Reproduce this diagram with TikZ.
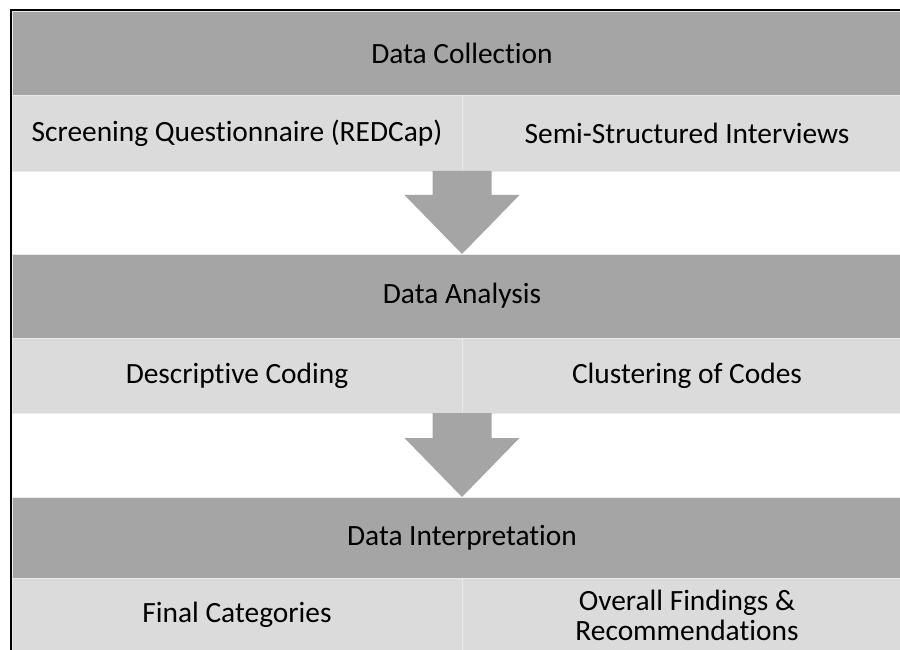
\documentclass[tikz,border=0pt]{standalone}
\usepackage{fontspec}
\setmainfont{Carlito}[Ligatures={NoCommon}]
\usetikzlibrary{calc}
\definecolor{darkband}{HTML}{A5A5A5}
\definecolor{lightband}{HTML}{DBDBDB}
\definecolor{sepline}{HTML}{E9E9E9}
\begin{document}
\begin{tikzpicture}[x=1pt,y=-1pt,
  txt/.style={font=\fontsize{29.4}{30}\selectfont, text=black, inner sep=0pt, outer sep=0pt},
  darkbox/.style={txt, rectangle, fill=darkband, draw=sepline, line width=0.8pt, minimum width=900pt, anchor=north west},
  lightbox/.style={txt, rectangle, fill=lightband, draw=sepline, line width=0.8pt, minimum width=450pt, anchor=north west, align=center},
  blockarrow/.style={fill=darkband, draw=none}]
\useasboundingbox (0,0) rectangle (900,650);
\clip (0,0) rectangle (900,650);
\fill[white] (0,0) rectangle (900,650);
% bands
\node[darkbox, minimum height=84pt] (dc) at (12,11) {Data Collection};
\node[lightbox, minimum height=76pt] (sq) at (12,95) {Screening Questionnaire (REDCap)};
\node[lightbox, minimum height=76pt] (si) at (462,95) {Semi-Structured Interviews};
\node[darkbox, minimum height=84pt] (da) at (12,254) {Data Analysis};
\node[lightbox, minimum height=75pt] (dcod) at (12,338) {Descriptive Coding};
\node[lightbox, minimum height=75pt] (cc) at (462,338) {Clustering of Codes};
\node[darkbox, minimum height=81pt] (di) at (12,497) {Data Interpretation};
\node[lightbox, minimum height=74pt] (fc) at (12,578) {Final Categories};
\node[lightbox, minimum height=74pt] (of) at (462,578) {Overall Findings \&\\Recommendations};
% arrows
\fill[blockarrow] ($(sq.south east)+(-29.5,0)$) -- ++(59,0) -- ++(0,24) -- ++(28,0)
  -- (da.north) -- ++(-57.5,-59) -- ++(28,0) -- cycle;
\fill[blockarrow] ($(dcod.south east)+(-29.5,0)$) -- ++(59,0) -- ++(0,25) -- ++(28,0)
  -- (di.north) -- ++(-57.5,-59) -- ++(28,0) -- cycle;
% frame
\draw[black, line width=2pt] (11,10) rectangle (913,700);
\end{tikzpicture}
\end{document}
